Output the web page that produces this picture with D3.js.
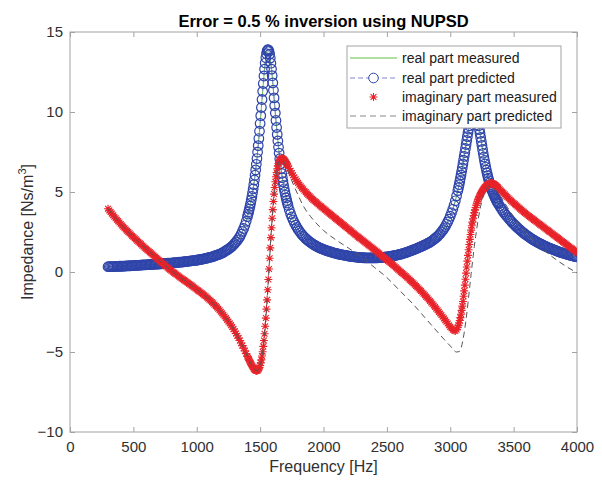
<!DOCTYPE html>
<html>
<head>
<meta charset="utf-8">
<script src="https://cdn.jsdelivr.net/npm/d3@7"></script>
<style>
  body { margin: 0; background: #fff; }
  text { font-family: "Liberation Sans", Arial, sans-serif; }
</style>
</head>
<body>
<div id="chart"></div>
<script>
// sampling grid used by the marker series (Hz), finer around the resonances
const freq = [
  300,310,320,330,340,350,360,370,380,390,
  400,410,420,430,440,450,460,470,480,490,
  500,510,520,530,540,550,560,570,580,590,
  600,610,620,630,640,650,660,670,680,690,
  700,710,720,730,740,750,760,770,780,790,
  800,810,820,830,840,850,860,870,880,890,
  900,910,920,930,940,950,960,970,980,990,
  1000,1010,1020,1030,1040,1050,1060,1070,1080,1090,
  1100,1110,1120,1130,1140,1150,1160,1170,1180,1190,
  1200,1210,1220,1230,1240,1250,1260,1270,1280,1290,
  1300,1310,1320,1330,1340,1350,1360,1370,1380,1390,
  1400,
  1405,1410,1415,1420,1425,1430,1435,1440,1445,1450,
  1455,1460,1465,1470,1475,1480,1485,1490,1495,1500,
  1505,1510,1515,1520,1525,1530,1535,1540,1545,1550,
  1555,1560,1565,1570,1575,1580,1585,1590,1595,1600,
  1605,1610,1615,1620,1625,1630,1635,1640,1645,1650,
  1655,1660,1665,1670,1675,1680,1685,1690,1695,1700,
  1705,1710,1715,1720,
  1730,1740,1750,1760,1770,1780,1790,1800,1810,1820,
  1830,1840,1850,1860,1870,1880,1890,1900,1910,1920,
  1930,1940,1950,1960,1970,1980,1990,2000,2010,2020,
  2030,2040,2050,2060,2070,2080,2090,2100,2110,2120,
  2130,2140,2150,2160,2170,2180,2190,2200,2210,2220,
  2230,2240,2250,2260,2270,2280,2290,2300,2310,2320,
  2330,2340,2350,2360,2370,2380,2390,2400,2410,2420,
  2430,2440,2450,2460,2470,2480,2490,2500,2510,2520,
  2530,2540,2550,2560,2570,2580,2590,2600,2610,2620,
  2630,2640,2650,2660,2670,2680,2690,2700,2710,2720,
  2730,2740,2750,2760,2770,2780,2790,2800,2810,2820,
  2830,2840,2850,2860,2870,2880,2890,2900,2910,2920,
  2930,2940,2950,2960,2970,2980,2990,3000,3010,3020,
  3030,3040,3050,3060,
  3065,3070,3075,3080,3085,3090,3095,3100,3105,3110,
  3115,3120,3125,3130,3135,3140,3145,3150,3155,3160,
  3165,3170,3175,3180,3185,3190,3195,3200,3205,3210,
  3215,3220,3225,3230,3235,3240,3245,3250,3255,3260,
  3265,3270,3275,3280,3285,3290,3295,3300,3305,3310,
  3315,3320,3325,3330,3335,3340,3345,3350,3355,3360,
  3365,3370,3375,3380,
  3390,3400,3410,3420,3430,3440,3450,3460,3470,3480,
  3490,3500,3510,3520,3530,3540,3550,3560,3570,3580,
  3590,3600,3610,3620,3630,3640,3650,3660,3670,3680,
  3690,3700,3710,3720,3730,3740,3750,3760,3770,3780,
  3790,3800,3810,3820,3830,3840,3850,3860,3870,3880,
  3890,3900,3910,3920,3930,3940,3950,3960,3970,3980,
  3990,4000
];

const realPredicted = [
  0.33,0.33,0.34,0.34,0.34,0.35,0.35,0.35,0.35,0.36,
  0.36,0.36,0.37,0.37,0.38,0.38,0.38,0.39,0.39,0.40,
  0.40,0.41,0.41,0.42,0.42,0.43,0.43,0.44,0.44,0.45,
  0.45,0.46,0.46,0.47,0.47,0.48,0.48,0.49,0.49,0.50,
  0.50,0.51,0.51,0.52,0.53,0.53,0.54,0.55,0.55,0.56,
  0.56,0.57,0.58,0.59,0.59,0.60,0.61,0.62,0.62,0.63,
  0.64,0.65,0.66,0.67,0.68,0.69,0.70,0.71,0.72,0.73,
  0.74,0.75,0.77,0.78,0.80,0.81,0.83,0.85,0.87,0.89,
  0.91,0.93,0.95,0.97,1.00,1.03,1.06,1.09,1.12,1.15,
  1.19,1.23,1.28,1.33,1.38,1.43,1.49,1.55,1.62,1.70,
  1.79,1.88,1.98,2.09,2.21,2.37,2.54,2.72,2.92,3.17,
  3.46,
  3.62,3.77,3.93,4.11,4.29,4.50,4.72,4.95,5.19,5.46,
  5.75,6.05,6.38,6.73,7.09,7.49,7.90,8.34,8.80,9.28,
  9.77,10.28,10.78,11.29,11.78,12.25,12.68,13.06,13.39,13.64,
  13.81,13.89,13.88,13.79,13.62,13.37,13.05,12.68,12.27,11.82,
  11.36,10.88,10.40,9.93,9.47,9.03,8.60,8.19,7.80,7.43,
  7.08,6.76,6.45,6.16,5.90,5.65,5.42,5.20,5.00,4.81,
  4.63,4.47,4.31,4.16,
  3.89,3.65,3.44,3.25,3.08,2.93,2.79,2.66,2.55,2.44,
  2.34,2.25,2.17,2.09,2.02,1.95,1.89,1.83,1.78,1.73,
  1.68,1.63,1.59,1.55,1.51,1.48,1.44,1.41,1.38,1.35,
  1.32,1.30,1.27,1.25,1.22,1.20,1.18,1.16,1.14,1.12,
  1.10,1.09,1.07,1.06,1.04,1.03,1.01,1.00,0.98,0.97,
  0.96,0.95,0.94,0.93,0.92,0.91,0.90,0.90,0.89,0.89,
  0.88,0.88,0.88,0.88,0.88,0.88,0.88,0.88,0.88,0.89,
  0.89,0.90,0.90,0.91,0.92,0.93,0.94,0.95,0.96,0.97,
  0.98,1.00,1.01,1.03,1.04,1.06,1.08,1.10,1.12,1.14,
  1.16,1.19,1.21,1.24,1.27,1.30,1.33,1.36,1.39,1.42,
  1.45,1.49,1.52,1.56,1.59,1.63,1.66,1.70,1.74,1.78,
  1.82,1.87,1.92,1.97,2.03,2.10,2.16,2.23,2.31,2.40,
  2.50,2.60,2.72,2.84,2.98,3.13,3.30,3.49,3.70,3.92,
  4.17,4.45,4.76,5.09,
  5.27,5.46,5.66,5.86,6.07,6.29,6.51,6.75,6.99,7.23,
  7.47,7.72,7.97,8.22,8.46,8.70,8.93,9.14,9.34,9.52,
  9.68,9.81,9.92,10.00,10.04,10.06,10.03,9.97,9.87,9.73,
  9.56,9.36,9.14,8.90,8.66,8.41,8.16,7.91,7.66,7.42,
  7.19,6.97,6.76,6.56,6.37,6.19,6.02,5.86,5.71,5.57,
  5.44,5.32,5.21,5.10,5.00,4.90,4.81,4.72,4.63,4.55,
  4.47,4.39,4.32,4.25,
  4.12,3.99,3.87,3.76,3.65,3.55,3.45,3.36,3.27,3.18,
  3.09,3.01,2.93,2.85,2.77,2.70,2.63,2.56,2.49,2.43,
  2.37,2.31,2.25,2.20,2.14,2.09,2.04,1.99,1.94,1.90,
  1.85,1.81,1.77,1.73,1.69,1.65,1.61,1.58,1.54,1.51,
  1.47,1.44,1.41,1.38,1.35,1.32,1.29,1.26,1.23,1.21,
  1.18,1.16,1.13,1.11,1.08,1.06,1.04,1.02,1.00,0.98,
  0.96,0.94
];

const imagMeasured = [
  3.95,3.85,3.75,3.65,3.55,3.45,3.36,3.27,3.18,3.09,
  3.00,2.91,2.83,2.74,2.66,2.58,2.50,2.42,2.34,2.26,
  2.19,2.11,2.04,1.96,1.89,1.81,1.74,1.66,1.59,1.52,
  1.45,1.38,1.31,1.24,1.17,1.10,1.03,0.96,0.89,0.82,
  0.75,0.68,0.61,0.54,0.47,0.40,0.34,0.27,0.21,0.14,
  0.08,0.02,-0.04,-0.10,-0.16,-0.22,-0.28,-0.34,-0.40,-0.45,
  -0.51,-0.56,-0.62,-0.67,-0.73,-0.79,-0.85,-0.91,-0.97,-1.03,
  -1.09,-1.15,-1.21,-1.27,-1.33,-1.39,-1.46,-1.52,-1.59,-1.66,
  -1.73,-1.80,-1.88,-1.96,-2.04,-2.12,-2.21,-2.30,-2.39,-2.48,
  -2.58,-2.68,-2.78,-2.88,-2.99,-3.10,-3.21,-3.32,-3.44,-3.57,
  -3.70,-3.84,-3.98,-4.13,-4.28,-4.44,-4.60,-4.76,-4.93,-5.10,
  -5.28,
  -5.36,-5.45,-5.53,-5.61,-5.69,-5.77,-5.84,-5.91,-5.97,-6.04,
  -6.09,-6.13,-6.15,-6.17,-6.17,-6.15,-6.11,-6.05,-5.96,-5.84,
  -5.68,-5.49,-5.25,-4.98,-4.65,-4.28,-3.86,-3.39,-2.88,-2.32,
  -1.74,-1.11,-0.47,0.19,0.86,1.51,2.15,2.77,3.36,3.90,
  4.41,4.87,5.28,5.64,5.95,6.22,6.45,6.63,6.78,6.90,
  6.99,7.05,7.08,7.10,7.10,7.08,7.05,7.01,6.96,6.90,
  6.84,6.77,6.70,6.62,
  6.47,6.32,6.18,6.05,5.92,5.80,5.68,5.57,5.46,5.36,
  5.26,5.17,5.08,4.99,4.90,4.82,4.74,4.66,4.58,4.51,
  4.44,4.37,4.30,4.23,4.16,4.10,4.03,3.97,3.90,3.84,
  3.77,3.71,3.64,3.58,3.51,3.45,3.38,3.32,3.25,3.19,
  3.12,3.06,2.99,2.93,2.86,2.80,2.73,2.67,2.60,2.54,
  2.47,2.41,2.34,2.28,2.21,2.15,2.09,2.03,1.97,1.91,
  1.84,1.78,1.72,1.66,1.59,1.53,1.47,1.41,1.34,1.28,
  1.21,1.15,1.08,1.02,0.95,0.89,0.82,0.76,0.69,0.63,
  0.56,0.50,0.43,0.36,0.29,0.22,0.15,0.08,0.01,-0.06,
  -0.13,-0.20,-0.27,-0.34,-0.41,-0.49,-0.56,-0.64,-0.71,-0.79,
  -0.87,-0.95,-1.03,-1.11,-1.19,-1.28,-1.36,-1.45,-1.54,-1.63,
  -1.72,-1.81,-1.90,-2.00,-2.09,-2.19,-2.29,-2.39,-2.49,-2.59,
  -2.69,-2.80,-2.90,-3.01,-3.11,-3.22,-3.33,-3.43,-3.52,-3.60,
  -3.66,-3.68,-3.60,-3.45,
  -3.33,-3.19,-3.03,-2.85,-2.64,-2.40,-2.13,-1.84,-1.52,-1.18,
  -0.82,-0.45,-0.07,0.31,0.68,1.04,1.39,1.72,2.04,2.34,
  2.62,2.89,3.12,3.33,3.53,3.71,3.88,4.03,4.17,4.30,
  4.42,4.53,4.63,4.72,4.81,4.89,4.96,5.03,5.09,5.15,
  5.21,5.26,5.31,5.35,5.39,5.43,5.46,5.49,5.51,5.53,
  5.54,5.55,5.55,5.54,5.53,5.51,5.49,5.46,5.43,5.40,
  5.37,5.33,5.29,5.25,
  5.17,5.09,5.01,4.93,4.85,4.77,4.69,4.61,4.53,4.46,
  4.38,4.31,4.24,4.17,4.10,4.03,3.96,3.89,3.82,3.76,
  3.69,3.63,3.56,3.50,3.44,3.38,3.32,3.26,3.20,3.14,
  3.08,3.02,2.96,2.90,2.84,2.78,2.72,2.66,2.60,2.54,
  2.48,2.42,2.36,2.30,2.24,2.18,2.12,2.06,2.00,1.94,
  1.88,1.82,1.76,1.70,1.64,1.58,1.52,1.46,1.40,1.34,
  1.28,1.22
];

// coarser grid for the two plain line series (Hz)
const lineFreq = [
  300,400,500,600,700,800,900,1000,1100,1200,
  1250,1300,1350,1400,1425,1450,1475,1500,1520,1540,
  1550,1560,1570,1580,1590,1600,1620,1640,1660,1680,
  1700,1725,1750,1800,1850,1900,2000,2100,2200,2300,
  2400,2500,2600,2700,2800,2900,2950,3000,3050,3075,
  3100,3125,3150,3165,3180,3190,3200,3210,3225,3250,
  3275,3300,3325,3350,3400,3450,3500,3600,3700,3800,
  3900,4000
];

const realMeasured = [
  0.33,0.36,0.40,0.45,0.50,0.56,0.64,0.74,0.91,1.19,
  1.43,1.79,2.37,3.46,4.29,5.46,7.09,9.28,11.29,13.06,
  13.64,13.89,13.79,13.37,12.68,11.82,9.93,8.19,6.76,5.65,
  4.81,4.02,3.44,2.66,2.17,1.83,1.41,1.16,1.00,0.90,
  0.88,0.95,1.10,1.36,1.70,2.23,2.72,3.49,4.76,5.66,
  6.75,7.97,9.14,9.68,10.00,10.06,9.97,9.73,9.14,7.91,
  6.76,5.86,5.21,4.72,3.99,3.45,3.01,2.31,1.81,1.44,
  1.16,0.94
];

const imagPredicted = [
  3.95,3.00,2.19,1.45,0.75,0.08,-0.51,-1.09,-1.73,-2.58,
  -3.10,-3.70,-4.44,-5.28,-5.69,-6.04,-6.17,-5.84,-4.98,-3.39,
  -2.32,-1.11,0.19,1.51,2.77,3.90,5.64,6.63,7.02,6.98,
  6.70,6.20,5.70,4.80,4.00,3.45,2.60,2.00,1.48,0.92,
  0.30,-0.35,-1.15,-1.95,-2.85,-3.75,-4.20,-4.62,-5.00,-4.95,
  -4.25,-2.95,-1.20,-0.10,0.95,1.60,2.20,2.75,3.50,4.45,
  5.05,5.35,5.38,5.22,4.70,4.05,3.45,2.45,1.65,0.98,
  0.42,-0.05
];

const xTicks = [0, 500, 1000, 1500, 2000, 2500, 3000, 3500, 4000];
const yTicks = [-10, -5, 0, 5, 10, 15];

const legendItems = [
  'real part measured',
  'real part predicted',
  'imaginary part measured',
  'imaginary part predicted'
];

const width = 602, height = 481;
const plot = { left: 70, right: 577, top: 32, bottom: 432 };

const xScale = d3.scaleLinear().domain([0, 4000]).range([plot.left, plot.right]);
const yScale = d3.scaleLinear().domain([-10, 15]).range([plot.bottom, plot.top]);

const frameColor = '#a3a3a3';
const labelColor = '#303030';
const green = '#62bd43';
const blue = '#2f45aa';
const blueLine = '#8088d4';
const red = '#e8232a';
const gray = '#555555';

const svg = d3.select('#chart')
  .append('svg')
  .attr('width', width)
  .attr('height', height);

svg.append('rect').attr('width', width).attr('height', height).attr('fill', '#fff');

svg.append('defs').append('clipPath').attr('id', 'clip')
  .append('rect')
  .attr('x', plot.left).attr('y', plot.top)
  .attr('width', plot.right - plot.left)
  .attr('height', plot.bottom - plot.top);

// axes, ticks pointing inward on all four sides
function styleAxis(g, showText) {
  g.select('.domain').remove();
  g.selectAll('.tick line').attr('stroke', frameColor);
  g.selectAll('.tick text')
    .attr('fill', labelColor)
    .attr('font-size', 15)
    .attr('font-family', '"Liberation Sans", Arial, sans-serif');
  if (!showText) g.selectAll('.tick text').remove();
}

svg.append('g')
  .attr('transform', `translate(0, ${plot.bottom})`)
  .call(d3.axisBottom(xScale).tickValues(xTicks).tickSize(-5).tickPadding(9).tickFormat(d3.format('d')))
  .call(g => styleAxis(g, true));

svg.append('g')
  .attr('transform', `translate(0, ${plot.top})`)
  .call(d3.axisTop(xScale).tickValues(xTicks).tickSize(-5))
  .call(g => styleAxis(g, false));

svg.append('g')
  .attr('transform', `translate(${plot.left}, 0)`)
  .call(d3.axisLeft(yScale).tickValues(yTicks).tickSize(-5).tickPadding(7))
  .call(g => styleAxis(g, true));

svg.append('g')
  .attr('transform', `translate(${plot.right}, 0)`)
  .call(d3.axisRight(yScale).tickValues(yTicks).tickSize(-5))
  .call(g => styleAxis(g, false));

svg.append('rect')
  .attr('x', plot.left).attr('y', plot.top)
  .attr('width', plot.right - plot.left)
  .attr('height', plot.bottom - plot.top)
  .attr('fill', 'none')
  .attr('stroke', frameColor);

// data
const chart = svg.append('g').attr('clip-path', 'url(#clip)');

const lineGen = d3.line()
  .x(d => xScale(d[0]))
  .y(d => yScale(d[1]))
  .curve(d3.curveMonotoneX);

const realMeasPts = lineFreq.map((f, i) => [f, realMeasured[i]]);
const realPredPts = freq.map((f, i) => [f, realPredicted[i]]);
const imagMeasPts = freq.map((f, i) => [f, imagMeasured[i]]);
const imagPredPts = lineFreq.map((f, i) => [f, imagPredicted[i]]);

chart.append('path')
  .datum(realMeasPts)
  .attr('d', lineGen)
  .attr('fill', 'none')
  .attr('stroke', green)
  .attr('stroke-width', 1);

chart.append('path')
  .datum(realPredPts)
  .attr('d', lineGen)
  .attr('fill', 'none')
  .attr('stroke', blueLine)
  .attr('stroke-width', 1)
  .attr('stroke-dasharray', '5,3');

chart.selectAll('circle.real')
  .data(realPredPts).enter()
  .append('circle')
  .attr('class', 'real')
  .attr('cx', d => xScale(d[0]))
  .attr('cy', d => yScale(d[1]))
  .attr('r', 4.8)
  .attr('fill', 'none')
  .attr('stroke', blue)
  .attr('stroke-width', 1.2);

const star = 'M-4,0L4,0M0,-4L0,4M-2.9,-2.9L2.9,2.9M-2.9,2.9L2.9,-2.9';

chart.selectAll('path.imag')
  .data(imagMeasPts).enter()
  .append('path')
  .attr('class', 'imag')
  .attr('d', star)
  .attr('transform', d => `translate(${xScale(d[0])}, ${yScale(d[1])})`)
  .attr('fill', 'none')
  .attr('stroke', red)
  .attr('stroke-width', 1.1);

chart.append('path')
  .datum(imagPredPts)
  .attr('d', lineGen)
  .attr('fill', 'none')
  .attr('stroke', gray)
  .attr('stroke-width', 1)
  .attr('stroke-dasharray', '6,4');

// title and axis labels
svg.append('text')
  .attr('x', (plot.left + plot.right) / 2)
  .attr('y', 27)
  .attr('text-anchor', 'middle')
  .attr('font-size', 16.5)
  .attr('font-weight', 'bold')
  .attr('fill', '#000')
  .text('Error = 0.5 % inversion using NUPSD');

svg.append('text')
  .attr('x', (plot.left + plot.right) / 2)
  .attr('y', 472)
  .attr('text-anchor', 'middle')
  .attr('font-size', 16)
  .attr('fill', labelColor)
  .text('Frequency [Hz]');

const yLabel = svg.append('text')
  .attr('transform', `translate(33, ${(plot.top + plot.bottom) / 2}) rotate(-90)`)
  .attr('text-anchor', 'middle')
  .attr('font-size', 16)
  .attr('fill', labelColor);
yLabel.append('tspan').text('Impedance [Ns/m');
yLabel.append('tspan').attr('font-size', 11).attr('dy', -7).text('3');
yLabel.append('tspan').attr('dy', 7).text(']');

// legend
const legend = svg.append('g');
legend.append('rect')
  .attr('x', 347).attr('y', 46)
  .attr('width', 214).attr('height', 82)
  .attr('fill', '#fff')
  .attr('stroke', frameColor);

const rowY = [58, 78, 97, 116];
legendItems.forEach((label, i) => {
  const yy = rowY[i];
  if (i === 0) {
    legend.append('line').attr('x1', 350).attr('x2', 397).attr('y1', yy).attr('y2', yy)
      .attr('stroke', green).attr('stroke-width', 1);
  } else if (i === 1) {
    legend.append('line').attr('x1', 350).attr('x2', 397).attr('y1', yy).attr('y2', yy)
      .attr('stroke', blueLine).attr('stroke-width', 1).attr('stroke-dasharray', '5,3');
    legend.append('circle').attr('cx', 373.5).attr('cy', yy).attr('r', 4.8)
      .attr('fill', '#fff').attr('stroke', blue);
  } else if (i === 2) {
    legend.append('path').attr('d', star)
      .attr('transform', `translate(373.5, ${yy})`)
      .attr('fill', 'none').attr('stroke', red).attr('stroke-width', 1.1);
  } else {
    legend.append('line').attr('x1', 350).attr('x2', 397).attr('y1', yy).attr('y2', yy)
      .attr('stroke', '#888').attr('stroke-width', 1).attr('stroke-dasharray', '6,4');
  }
  legend.append('text')
    .attr('x', 402)
    .attr('y', yy + 5)
    .attr('font-size', 14)
    .attr('fill', '#202020')
    .text(label);
});
</script>
</body>
</html>
